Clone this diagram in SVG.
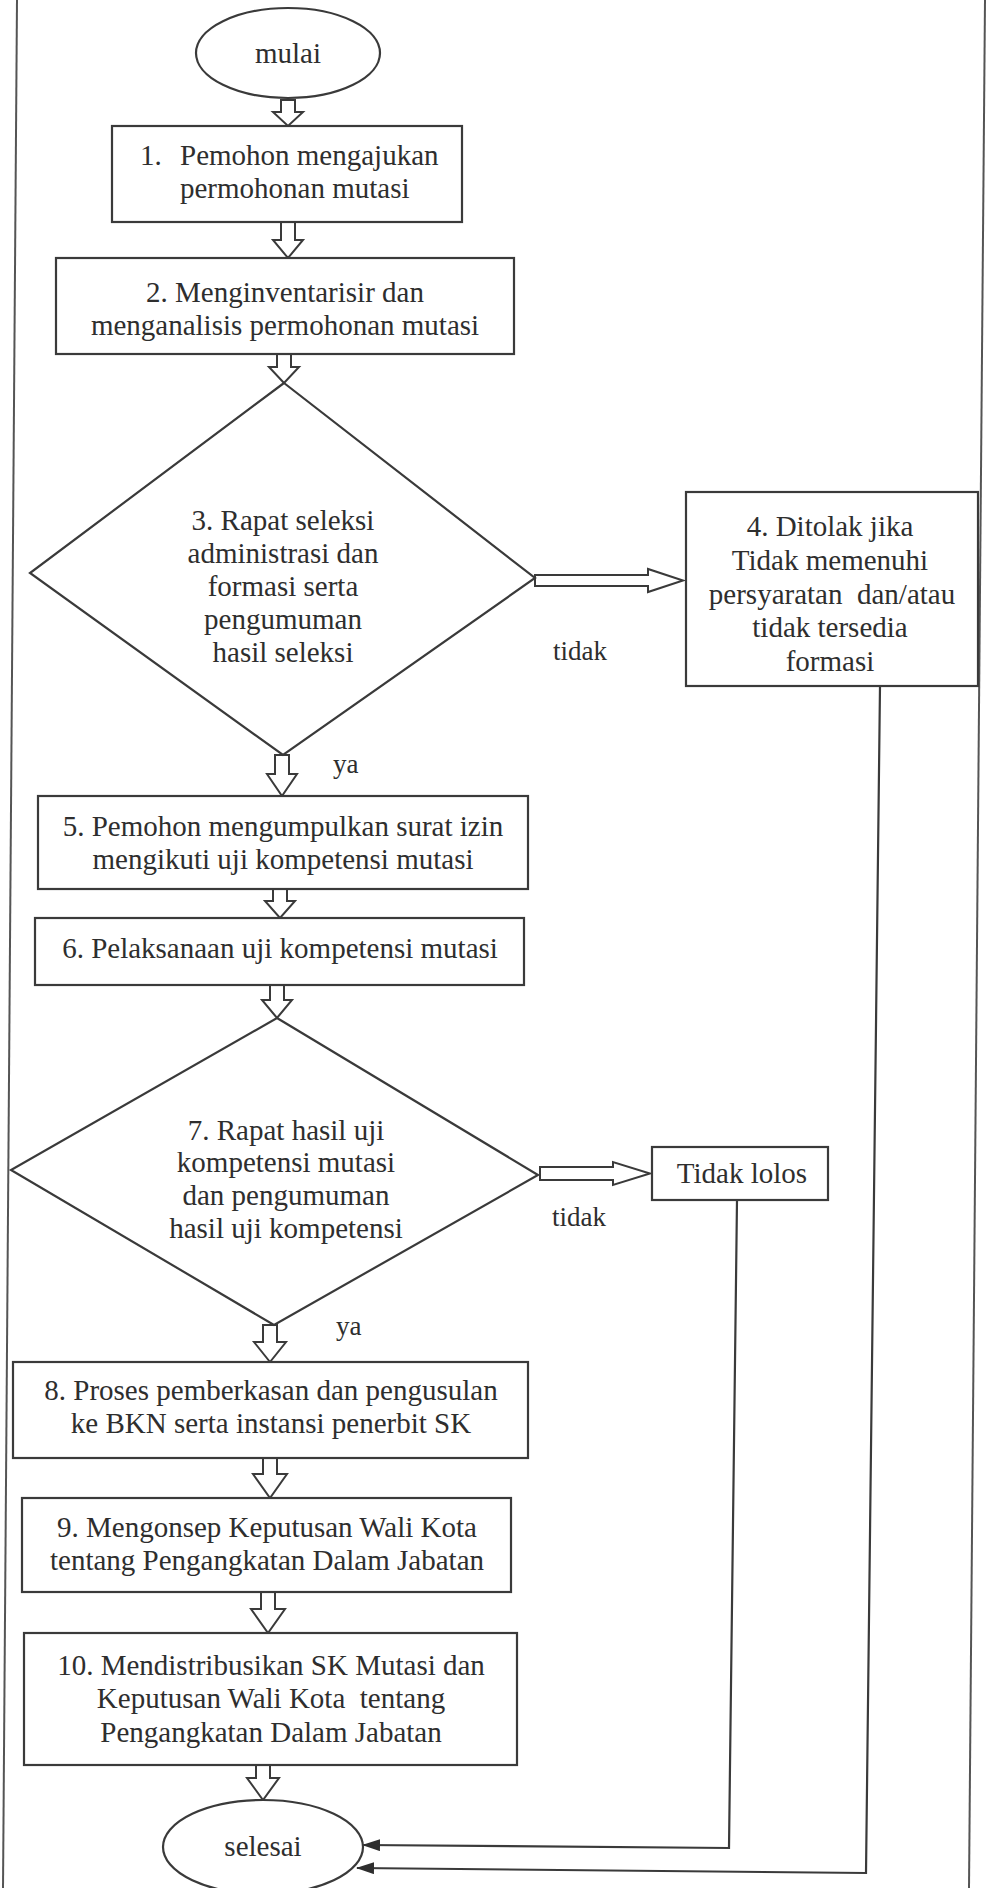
<svg xmlns="http://www.w3.org/2000/svg" width="986" height="1888" viewBox="0 0 986 1888">
<defs>
<style>
.bg{fill:#ffffff}
.shape{fill:#ffffff;stroke:#3a3a3a;stroke-width:2.2}
.conn{fill:none;stroke:#3a3a3a;stroke-width:2.2}
.harrow{fill:#ffffff;stroke:#3a3a3a;stroke-width:2;stroke-linejoin:miter}
.border{fill:none;stroke:#555555;stroke-width:2}
text{font-family:"Liberation Serif","Times New Roman",serif;font-size:29px;fill:#2e2e2e}
.c{text-anchor:middle}
.lbl{font-size:27px}
</style>
<marker id="ah" markerWidth="18" markerHeight="12" refX="17" refY="6" orient="auto" markerUnits="userSpaceOnUse">
<path d="M0,0 L18,6 L0,12 Z" fill="#2e2e2e"/>
</marker>
</defs>
<rect class="bg" x="0" y="0" width="986" height="1888"/>
<g id="page-border">
<line class="border" x1="17" y1="0" x2="3" y2="1888"/>
<line class="border" x1="985" y1="0" x2="969" y2="1888"/>
</g>

<g id="connectors">
<path class="harrow" d="M281,100 L295,100 L295,112 L303,112 L288,126 L273,112 L281,112 Z"/>
<path class="harrow" d="M281,222 L295,222 L295,240 L303,240 L288,258 L273,240 L281,240 Z"/>
<path class="harrow" d="M277,354 L291,354 L291,367 L299,367 L284,383 L269,367 L277,367 Z"/>
<path class="harrow" d="M535,575 L648,575 L648,569 L683,580.5 L648,592 L648,586 L535,586 Z"/>
<path class="harrow" d="M275,755 L289,755 L289,774 L297,774 L282,796 L267,774 L275,774 Z"/>
<path class="harrow" d="M273,889 L287,889 L287,901 L295,901 L280,918 L265,901 L273,901 Z"/>
<path class="harrow" d="M270,985 L284,985 L284,1000 L292,1000 L277,1018 L262,1000 L270,1000 Z"/>
<path class="harrow" d="M540,1167 L613,1167 L613,1162 L650,1173.5 L613,1185 L613,1180 L540,1180 Z"/>
<path class="harrow" d="M263,1325 L277,1325 L277,1342 L286,1342 L270,1362 L254,1342 L263,1342 Z"/>
<path class="harrow" d="M263,1458 L277,1458 L277,1474 L287,1474 L270,1498 L253,1474 L263,1474 Z"/>
<path class="harrow" d="M261,1592 L275,1592 L275,1609 L285,1609 L268,1633 L251,1609 L261,1609 Z"/>
<path class="harrow" d="M256,1765 L270,1765 L270,1778 L279,1778 L263,1800 L247,1778 L256,1778 Z"/>
<polyline class="conn" points="737,1200 729,1848 363,1845" marker-end="url(#ah)"/>
<polyline class="conn" points="880,686 866,1873 357,1868" marker-end="url(#ah)"/>
<text class="lbl" x="553" y="660">tidak</text>
<text class="lbl" x="333" y="773">ya</text>
<text class="lbl" x="552" y="1226">tidak</text>
<text class="lbl" x="336" y="1335">ya</text>
</g>

<g id="mulai">
<ellipse class="shape" cx="288" cy="53" rx="92" ry="45"/>
<text class="c" x="288" y="63">mulai</text>
</g>

<g id="step1">
<rect class="shape" x="112" y="126" width="350" height="96"/>
<text y="165"><tspan x="140">1.</tspan><tspan x="180">Pemohon mengajukan</tspan></text>
<text x="180" y="198">permohonan mutasi</text>
</g>

<g id="step2">
<rect class="shape" x="56" y="258" width="458" height="96"/>
<text class="c" x="285" y="302">2. Menginventarisir dan</text>
<text class="c" x="285" y="335">menganalisis permohonan mutasi</text>
</g>

<g id="step3">
<polygon class="shape" points="284,383 535,578 283,755 30,573"/>
<text class="c" x="283" y="530">3. Rapat seleksi</text>
<text class="c" x="283" y="563">administrasi dan</text>
<text class="c" x="283" y="596">formasi serta</text>
<text class="c" x="283" y="629">pengumuman</text>
<text class="c" x="283" y="662">hasil seleksi</text>
</g>

<g id="step4">
<rect class="shape" x="686" y="492" width="292" height="194"/>
<text class="c" x="830" y="536">4. Ditolak jika</text>
<text class="c" x="830" y="570">Tidak memenuhi</text>
<text class="c" x="832" y="604" xml:space="preserve">persyaratan  dan/atau</text>
<text class="c" x="830" y="637">tidak tersedia</text>
<text class="c" x="830" y="671">formasi</text>
</g>

<g id="step5">
<rect class="shape" x="38" y="796" width="490" height="93"/>
<text class="c" x="283" y="836">5. Pemohon mengumpulkan surat izin</text>
<text class="c" x="283" y="869">mengikuti uji kompetensi mutasi</text>
</g>

<g id="step6">
<rect class="shape" x="35" y="918" width="489" height="67"/>
<text class="c" x="280" y="958">6. Pelaksanaan uji kompetensi mutasi</text>
</g>

<g id="step7">
<polygon class="shape" points="277,1018 538,1175 274,1325 11,1170"/>
<text class="c" x="286" y="1140">7. Rapat hasil uji</text>
<text class="c" x="286" y="1172">kompetensi mutasi</text>
<text class="c" x="286" y="1205">dan pengumuman</text>
<text class="c" x="286" y="1238">hasil uji kompetensi</text>
</g>

<g id="tidak-lolos">
<rect class="shape" x="652" y="1147" width="176" height="53"/>
<text class="c" x="742" y="1183">Tidak lolos</text>
</g>

<g id="step8">
<rect class="shape" x="13" y="1362" width="515" height="96"/>
<text class="c" x="271" y="1400">8. Proses pemberkasan dan pengusulan</text>
<text class="c" x="271" y="1433">ke BKN serta instansi penerbit SK</text>
</g>

<g id="step9">
<rect class="shape" x="22" y="1498" width="489" height="94"/>
<text class="c" x="267" y="1537">9. Mengonsep Keputusan Wali Kota</text>
<text class="c" x="267" y="1570">tentang Pengangkatan Dalam Jabatan</text>
</g>

<g id="step10">
<rect class="shape" x="24" y="1633" width="493" height="132"/>
<text class="c" x="271" y="1675">10. Mendistribusikan SK Mutasi dan</text>
<text class="c" x="271" y="1708" xml:space="preserve">Keputusan Wali Kota  tentang</text>
<text class="c" x="271" y="1742">Pengangkatan Dalam Jabatan</text>
</g>

<g id="selesai">
<ellipse class="shape" cx="263" cy="1847" rx="100" ry="47"/>
<text class="c" x="263" y="1856">selesai</text>
</g>
</svg>
